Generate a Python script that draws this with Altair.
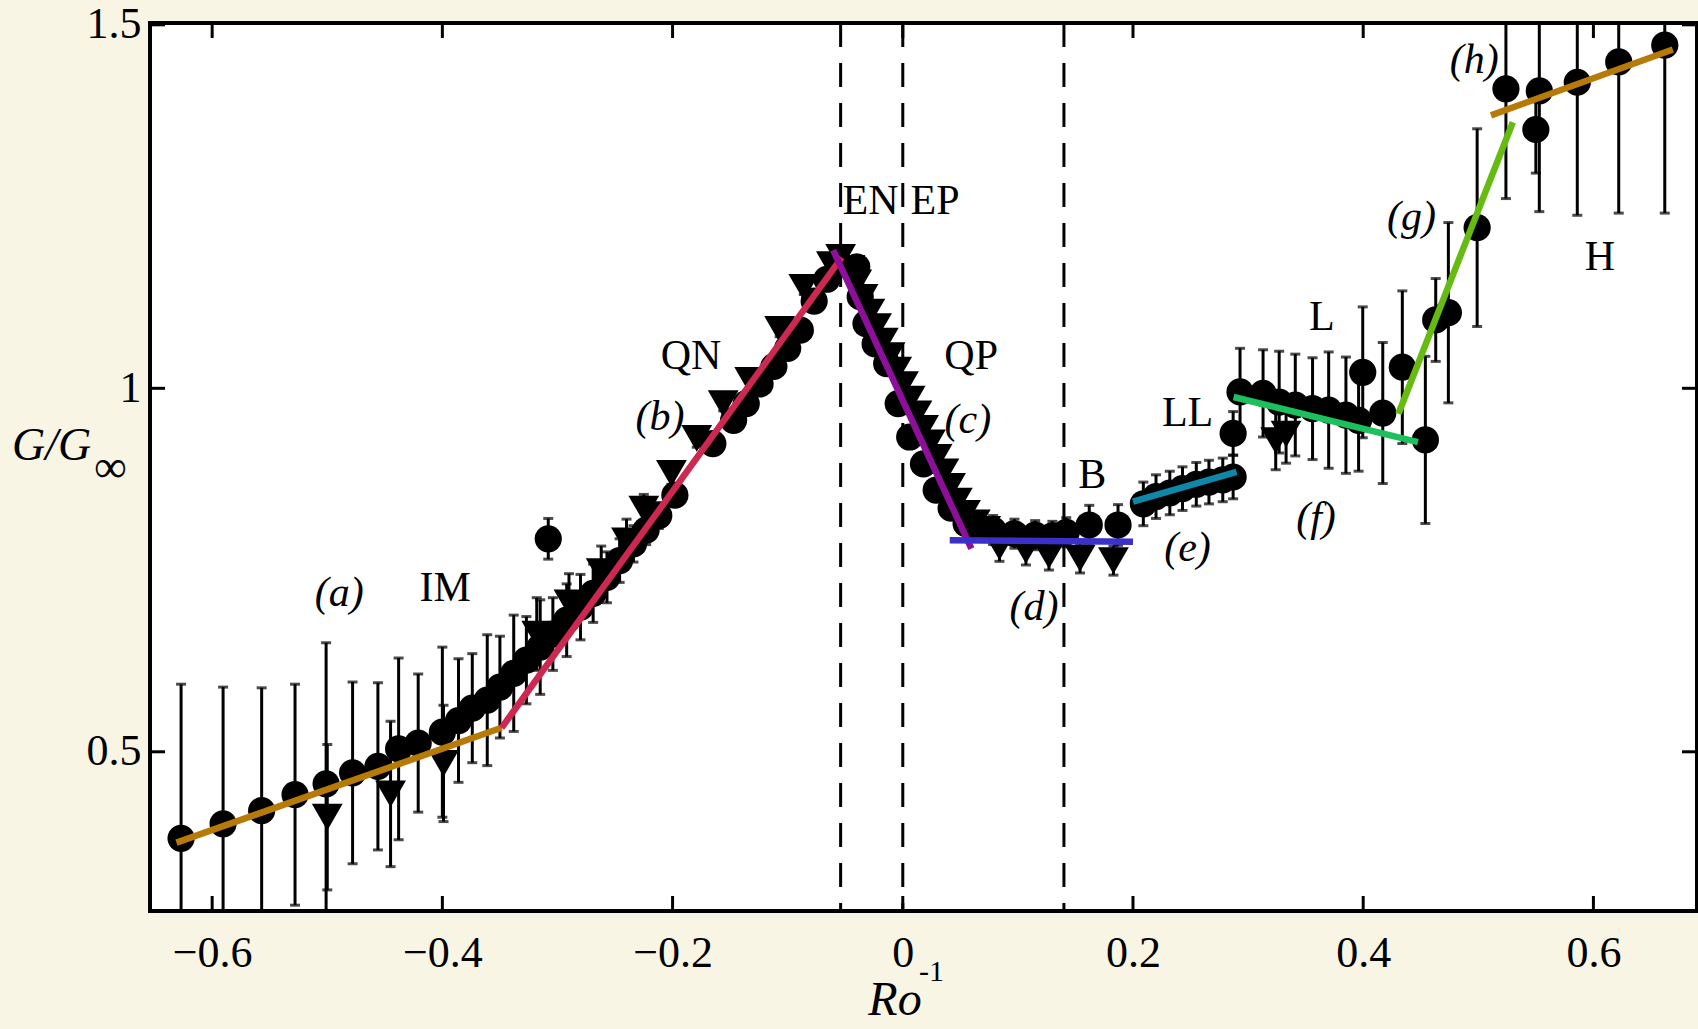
import altair as alt
import pandas as pd

# ---------------- data ----------------
circ_x = [-0.627, -0.5905, -0.557, -0.528, -0.501, -0.478, -0.456, -0.438, -0.421, -0.400, -0.386, -0.374,
          -0.361, -0.350, -0.338, -0.327, -0.315, -0.304, -0.292, -0.280, -0.269, -0.257, -0.246, -0.234, -0.223,
          -0.308, -0.212, -0.198, -0.165, -0.147, -0.136, -0.124, -0.112, -0.100, -0.089, -0.077, -0.066, -0.055,
          -0.040, -0.037, -0.032, -0.024, -0.014, -0.004, 0.006, 0.018, 0.029, 0.042, 0.055, 0.066,
          0.0785, 0.097, 0.115, 0.130, 0.142, 0.162, 0.187,
          0.209, 0.220, 0.232, 0.243, 0.255, 0.266, 0.278, 0.287, 0.287,
          0.293, 0.313, 0.327, 0.341, 0.356, 0.370, 0.385, 0.396,
          0.3996, 0.417, 0.434, 0.454, 0.463, 0.474, 0.499, 0.524, 0.550, 0.553, 0.586, 0.622, 0.662]
circ_y = [0.381, 0.401, 0.419, 0.441, 0.456, 0.471, 0.480, 0.504, 0.512, 0.527, 0.543, 0.560,
          0.571, 0.589, 0.608, 0.626, 0.644, 0.662, 0.681, 0.699, 0.718, 0.740, 0.763, 0.786, 0.805,
          0.793, 0.825, 0.853, 0.924, 0.956, 0.979, 1.006, 1.030, 1.055, 1.080, 1.120, 1.150, 1.170,
          1.167, 1.126, 1.089, 1.061, 1.034, 0.979, 0.933, 0.896, 0.860, 0.835, 0.814, 0.806,
          0.805, 0.800, 0.798, 0.797, 0.802, 0.812, 0.812,
          0.841, 0.851, 0.856, 0.862, 0.868, 0.871, 0.874, 0.878, 0.938,
          0.995, 0.993, 0.981, 0.977, 0.972, 0.970, 0.963, 0.956,
          1.022, 0.966, 1.029, 0.929, 1.094, 1.104, 1.221, 1.412, 1.356, 1.409, 1.421, 1.449, 1.472]
circ_err = [0.212, 0.188, 0.169, 0.152, 0.194, 0.125, 0.115, 0.125, 0.095, 0.117, 0.085, 0.075,
            0.09, 0.07, 0.08, 0.06, 0.065, 0.05, 0.05, 0.045, 0.04, 0.035, 0.03, 0.025, 0.02,
            0.028, 0.018, 0.015, 0.012, 0.012, 0.01, 0.01, 0.01, 0.01, 0.01, 0.01, 0.01, 0.01,
            0.008, 0.008, 0.008, 0.008, 0.008, 0.01, 0.01, 0.01, 0.01, 0.01, 0.012, 0.015,
            0.02, 0.02, 0.02, 0.02, 0.02, 0.027, 0.028,
            0.03, 0.03, 0.03, 0.03, 0.03, 0.03, 0.03, 0.03, 0.03,
            0.06, 0.06, 0.07, 0.07, 0.07, 0.08, 0.08, 0.07,
            0.09, 0.097, 0.105, 0.115, 0.057, 0.124, 0.136, 0.151, 0.06, 0.166, 0.183, 0.208, 0.231]

tri_x = [-0.500, -0.445, -0.399,
         -0.318, -0.290, -0.262, -0.240, -0.225, -0.201, -0.179, -0.156, -0.133, -0.107, -0.086, -0.062, -0.054,
         -0.046, -0.040, -0.0345, -0.0286, -0.0228, -0.0169, -0.0111, -0.0053, 0.0006, 0.0064, 0.0123,
         0.0181, 0.0240, 0.0298, 0.0357, 0.0415, 0.0474, 0.0545, 0.063, 0.072,
         0.084, 0.107, 0.127, 0.154, 0.183,
         0.324, 0.333]
tri_y = [0.410, 0.442, 0.484,
         0.662, 0.705, 0.748, 0.790, 0.834, 0.883, 0.931, 0.979, 1.011, 1.081, 1.139, 1.170, 1.180,
         1.165, 1.145, 1.125, 1.105, 1.085, 1.065, 1.045, 1.025, 1.005, 0.985, 0.965,
         0.945, 0.925, 0.905, 0.885, 0.865, 0.845, 0.828, 0.815, 0.806,
         0.782, 0.777, 0.770, 0.766, 0.763,
         0.928, 0.937]
tri_err = [0.10, 0.10, 0.08,
           0.05, 0.04, 0.035, 0.03, 0.02, 0.015, 0.012, 0.01, 0.01, 0.01, 0.01, 0.01, 0.01,
           0.01, 0.01, 0.01, 0.01, 0.01, 0.01, 0.01, 0.01, 0.01, 0.01, 0.01,
           0.01, 0.01, 0.01, 0.01, 0.01, 0.01, 0.01, 0.012, 0.015,
           0.02, 0.02, 0.02, 0.02, 0.02,
           0.04, 0.04]

seg_name = ["a", "b", "c", "d", "e", "f", "g", "h"]
seg_x0 = [-0.631, -0.3486, -0.0605, 0.0408, 0.200, 0.2874, 0.4306, 0.511]
seg_y0 = [0.375, 0.533, 1.190, 0.791, 0.844, 0.988, 0.965, 1.3755]
seg_x1 = [-0.3486, -0.053, 0.0596, 0.200, 0.290, 0.4476, 0.530, 0.669]
seg_y1 = [0.533, 1.180, 0.7795, 0.789, 0.885, 0.926, 1.366, 1.466]
seg_color = ["#b87a06", "#cc2850", "#8e0f9a", "#3b30c8", "#0e87a8", "#1cc05c", "#66bb11", "#b87a06"]

dash_x = [-0.054, 0.0, 0.140]
x_ticks = [-0.6, -0.4, -0.2, 0.0, 0.2, 0.4, 0.6]
y_ticks = [0.5, 1.0, 1.5]

lab_text = ["(a)", "IM", "(b)", "QN", "EN", "EP", "QP", "(c)", "B", "(d)", "LL", "(e)", "L", "(f)", "(g)", "H", "(h)"]
lab_x = [-0.4896, -0.3975, -0.211, -0.184, -0.028, 0.028, 0.0594, 0.0565, 0.1647, 0.114, 0.2474, 0.2474,
         0.364, 0.359, 0.442, 0.6056, 0.4965]
lab_y = [0.719, 0.725, 0.960, 1.045, 1.257, 1.257, 1.045, 0.957, 0.881, 0.699, 0.966, 0.781,
         1.098, 0.822, 1.236, 1.181, 1.452]
lab_italic = [t.startswith("(") for t in lab_text]

# ---------------- layout ----------------
W, H = 1547, 888
FONT = "Liberation Serif"
X_DOM = [-0.654, 0.690]
Y_DOM = [0.281, 1.5025]
xs = alt.Scale(domain=X_DOM, nice=False, zero=False)
ys = alt.Scale(domain=Y_DOM, nice=False, zero=False)

circ = pd.DataFrame({"x": circ_x, "y": circ_y, "err": circ_err})
tri = pd.DataFrame({"x": tri_x, "y": tri_y, "err": tri_err})
pts = pd.concat([circ, tri], ignore_index=True)
segs = pd.DataFrame({"seg": seg_name, "x0": seg_x0, "y0": seg_y0, "x1": seg_x1, "y1": seg_y1, "c": seg_color})
dash = pd.DataFrame({"v": dash_x})
xt = pd.DataFrame({"v": x_ticks})
yt = pd.DataFrame({"v": y_ticks})
labs = pd.DataFrame({"t": lab_text, "x": lab_x, "y": lab_y, "it": lab_italic})

x_axis = alt.Axis(values=x_ticks, ticks=False, domain=False, grid=False, labelFont=FONT,
                  labelFontSize=44, labelColor="black", labelPadding=20, labelFlush=False,
                  labelExpr="datum.value == 0 ? '0' : replace(format(datum.value, '.1f'), '-', '\u2212')",
                  title=None)
y_axis = alt.Axis(values=y_ticks, ticks=False, domain=False, grid=False, labelFont=FONT,
                  labelFontSize=44, labelColor="black", labelPadding=9,
                  labelExpr="format(datum.value, '~g')", title=None)

dashed = alt.Chart(dash).mark_rule(color="black", strokeWidth=3, strokeDash=[24, 16]).encode(
    x=alt.X("v:Q", scale=xs, axis=x_axis))

err_base = alt.Chart(pts).transform_calculate(lo="datum.y - datum.err", hi="datum.y + datum.err")
err_rules = err_base.mark_rule(color="black", strokeWidth=3, clip=True).encode(
    x=alt.X("x:Q", scale=xs), y=alt.Y("lo:Q", scale=ys, axis=y_axis), y2="hi:Q")
cap_lo = err_base.mark_tick(color="black", thickness=3, size=10, orient="horizontal", clip=True).encode(
    x=alt.X("x:Q", scale=xs), y=alt.Y("lo:Q", scale=ys))
cap_hi = err_base.mark_tick(color="black", thickness=3, size=10, orient="horizontal", clip=True).encode(
    x=alt.X("x:Q", scale=xs), y=alt.Y("hi:Q", scale=ys))

circles = alt.Chart(circ).mark_circle(color="black", opacity=1, size=740, clip=True).encode(
    x=alt.X("x:Q", scale=xs), y=alt.Y("y:Q", scale=ys))
triangles = alt.Chart(tri).mark_point(shape="triangle-down", filled=True, color="black", opacity=1,
                                       size=950, clip=True).encode(
    x=alt.X("x:Q", scale=xs), y=alt.Y("y:Q", scale=ys))

fits = alt.Chart(segs).mark_rule(strokeWidth=6.5).encode(
    x=alt.X("x0:Q", scale=xs), y=alt.Y("y0:Q", scale=ys), x2="x1:Q", y2="y1:Q",
    color=alt.Color("c:N", scale=None))

lab_up = alt.Chart(labs).transform_filter("!datum.it").mark_text(
    font=FONT, fontSize=42, color="black", align="center", baseline="middle").encode(
    x=alt.X("x:Q", scale=xs), y=alt.Y("y:Q", scale=ys), text="t:N")
lab_it = alt.Chart(labs).transform_filter("datum.it").mark_text(
    font=FONT, fontSize=42, fontStyle="italic", color="black", align="center", baseline="middle").encode(
    x=alt.X("x:Q", scale=xs), y=alt.Y("y:Q", scale=ys), text="t:N")

# inward tick marks on all four sides
bot_ticks = alt.Chart(xt).mark_rule(color="black", strokeWidth=3).encode(
    x=alt.X("v:Q", scale=xs), y=alt.value(H), y2=alt.value(H - 15))
top_ticks = alt.Chart(xt).mark_rule(color="black", strokeWidth=3).encode(
    x=alt.X("v:Q", scale=xs), y=alt.value(0), y2=alt.value(15))
left_ticks = alt.Chart(yt).mark_rule(color="black", strokeWidth=3).encode(
    y=alt.Y("v:Q", scale=ys), x=alt.value(0), x2=alt.value(15))
right_ticks = alt.Chart(yt).mark_rule(color="black", strokeWidth=3).encode(
    y=alt.Y("v:Q", scale=ys), x=alt.value(W), x2=alt.value(W - 15))

# axis titles (with sub/superscripts)
t1 = pd.DataFrame({"t": ["G/G"]})
ytitle = alt.Chart(t1).mark_text(font=FONT, fontSize=46, fontStyle="italic", color="black",
                                 align="left", baseline="alphabetic").encode(
    text="t:N", x=alt.value(-138), y=alt.value(437))
t2 = pd.DataFrame({"t": ["\u221e"]})
ysub = alt.Chart(t2).mark_text(font=FONT, fontSize=46, color="black",
                               align="left", baseline="alphabetic").encode(
    text="t:N", x=alt.value(-56), y=alt.value(459))
t3 = pd.DataFrame({"t": ["Ro"]})
xtitle = alt.Chart(t3).mark_text(font=FONT, fontSize=48, fontStyle="italic", color="black",
                                 align="center", baseline="alphabetic").encode(
    text="t:N", x=alt.value(745), y=alt.value(992))
t4 = pd.DataFrame({"t": ["-1"]})
xsup = alt.Chart(t4).mark_text(font=FONT, fontSize=30, color="black",
                               align="left", baseline="alphabetic").encode(
    text="t:N", x=alt.value(769), y=alt.value(958))

chart = alt.layer(
    dashed, err_rules, cap_lo, cap_hi, circles, triangles, fits, lab_up, lab_it,
    bot_ticks, top_ticks, left_ticks, right_ticks, ytitle, ysub, xtitle, xsup
).properties(
    width=W, height=H,
    padding={"left": 150, "top": 23, "right": 1, "bottom": 118},
    autosize=alt.AutoSizeParams(type="none"),
    background="#f8f5e4",
).configure_view(stroke="black", strokeWidth=4, fill="white")

chart.save("out.html", embed_options={"renderer": "svg", "actions": False})
